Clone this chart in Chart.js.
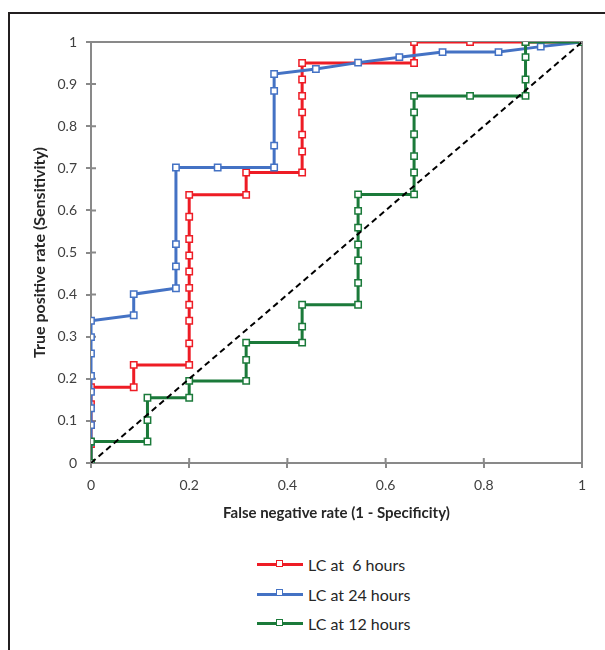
<!DOCTYPE html>
<html>
<head>
  <meta charset="UTF-8">
  <title>ROC curves</title>
  <script src="https://cdn.jsdelivr.net/npm/chart.js"></script>
  <style>
    body { margin: 0; background: #fff; font-family: Lato, 'Liberation Sans', sans-serif; }
    #frame { position: absolute; left: 8px; top: 12px; width: 640px; height: 700px;
             border-left: 2px solid #231f20; border-top: 2px solid #231f20; }
    #rocChart { position: absolute; left: 0; top: 0; }
    #legend { position: absolute; left: 257px; top: 550px; }
    .row { height: 29.5px; display: flex; align-items: center; color: #262626; font-size: 16px; white-space: pre; }
    .swatch { position: relative; width: 46px; height: 3px; margin-right: 5px; }
    .swatch span { position: absolute; left: 19px; top: -3.5px; width: 5px; height: 5px; background: #fff; border: 1.5px solid; }
  </style>
</head>
<body>
  <div id="frame"></div>
  <canvas id="rocChart" width="605" height="540"></canvas>
  <div id="legend"></div>

  <script>
    // values
    const seriesNames = ['LC at  6 hours', 'LC at 24 hours', 'LC at 12 hours'];
    const seriesColors = ['#ee1c25', '#4472c4', '#1b7a3a'];

    const lc6X = [0, 0, 0, 0, 0, 0.087, 0.087, 0.2, 0.2, 0.2, 0.2, 0.2, 0.2, 0.2, 0.2, 0.2, 0.2, 0.316, 0.316, 0.43, 0.43, 0.43, 0.43, 0.43, 0.43, 0.43, 0.658, 0.658, 0.772, 0.885, 1];
    const lc6Y = [0, 0.045, 0.09, 0.14, 0.18, 0.18, 0.233, 0.233, 0.284, 0.338, 0.376, 0.416, 0.455, 0.493, 0.532, 0.585, 0.637, 0.637, 0.69, 0.69, 0.74, 0.78, 0.833, 0.872, 0.911, 0.95, 0.95, 1, 1, 1, 1];

    const lc24X = [0, 0, 0, 0, 0, 0, 0, 0, 0, 0.087, 0.087, 0.173, 0.173, 0.173, 0.173, 0.258, 0.373, 0.373, 0.373, 0.373, 0.458, 0.544, 0.628, 0.716, 0.83, 0.916, 1];
    const lc24Y = [0, 0.05, 0.09, 0.13, 0.169, 0.207, 0.26, 0.299, 0.338, 0.351, 0.401, 0.415, 0.467, 0.52, 0.702, 0.702, 0.702, 0.754, 0.884, 0.924, 0.936, 0.951, 0.964, 0.976, 0.976, 0.989, 1];

    const lc12X = [0, 0, 0.115, 0.115, 0.115, 0.2, 0.2, 0.316, 0.316, 0.316, 0.43, 0.43, 0.43, 0.544, 0.544, 0.544, 0.544, 0.544, 0.544, 0.544, 0.658, 0.658, 0.658, 0.658, 0.658, 0.658, 0.772, 0.885, 0.885, 0.885, 0.885, 1];
    const lc12Y = [0, 0.051, 0.051, 0.102, 0.155, 0.155, 0.195, 0.195, 0.245, 0.286, 0.286, 0.324, 0.376, 0.376, 0.428, 0.481, 0.519, 0.559, 0.599, 0.638, 0.638, 0.69, 0.729, 0.781, 0.833, 0.872, 0.872, 0.872, 0.911, 0.964, 1, 1];

    const diagX = [0, 1];
    const diagY = [0, 1];

    const xTickLabels = ['0', '0.2', '0.4', '0.6', '0.8', '1'];
    const yTickLabels = ['0', '0.1', '0.2', '0.3', '0.4', '0.5', '0.6', '0.7', '0.8', '0.9', '1'];

    const axisGrey = '#898989';
    const toPoints = (xs, ys) => xs.map((x, i) => ({ x: x, y: ys[i] }));

    function series(idx, xs, ys, order) {
      return {
        label: seriesNames[idx],
        data: toPoints(xs, ys),
        showLine: true,
        borderColor: seriesColors[idx],
        borderWidth: 3,
        pointStyle: 'rect',
        pointRadius: 4.5,
        pointBorderWidth: 1.5,
        pointBorderColor: seriesColors[idx],
        pointBackgroundColor: '#ffffff',
        order: order
      };
    }

    // grey box on top/right plus the inner half of each tick mark
    const frameAndTicks = {
      id: 'frameAndTicks',
      beforeDatasetsDraw(chart) {
        const { ctx, chartArea: a, scales } = chart;
        ctx.save();
        ctx.strokeStyle = axisGrey;
        ctx.lineWidth = 2;
        ctx.beginPath();
        ctx.moveTo(a.left, a.top); ctx.lineTo(a.right, a.top); ctx.lineTo(a.right, a.bottom);
        scales.x.ticks.forEach(t => {
          const px = scales.x.getPixelForValue(t.value);
          ctx.moveTo(px, a.bottom); ctx.lineTo(px, a.bottom - 5);
        });
        scales.y.ticks.forEach(t => {
          const py = scales.y.getPixelForValue(t.value);
          ctx.moveTo(a.left, py); ctx.lineTo(a.left + 5, py);
        });
        ctx.stroke();
        ctx.restore();
      }
    };

    const tickFont = { family: 'Lato', size: 14 };
    const titleFont = { family: 'Lato', size: 15, weight: 'bold' };

    new Chart(document.getElementById('rocChart'), {
      type: 'scatter',
      data: {
        datasets: [
          {
            label: 'reference',
            data: toPoints(diagX, diagY),
            showLine: true,
            borderColor: '#000000',
            borderWidth: 2,
            borderDash: [6, 4],
            pointRadius: 0,
            order: -1
          },
          series(0, lc6X, lc6Y, 3),
          series(1, lc24X, lc24Y, 2),
          series(2, lc12X, lc12Y, 1)
        ]
      },
      options: {
        responsive: false,
        animation: false,
        layout: { padding: { left: 0, right: 23, top: 42, bottom: 0 } },
        plugins: { legend: { display: false }, tooltip: { enabled: false } },
        scales: {
          x: {
            type: 'linear', min: 0, max: 1,
            ticks: { stepSize: 0.2, padding: 9, color: '#404040', font: tickFont,
                     callback: (v, i) => xTickLabels[i] },
            grid: { drawOnChartArea: false, tickLength: 5, color: axisGrey, lineWidth: 2 },
            border: { color: axisGrey, width: 2 },
            title: { display: true, text: 'False negative rate (1 - Specificity)', color: '#262626',
                     font: titleFont, padding: { top: 0, bottom: 18 } },
            afterFit(s) { s.height = 77; }
          },
          y: {
            type: 'linear', min: 0, max: 1,
            ticks: { stepSize: 0.1, padding: 9, color: '#404040', font: tickFont,
                     callback: (v, i) => yTickLabels[i] },
            grid: { drawOnChartArea: false, tickLength: 5, color: axisGrey, lineWidth: 2 },
            border: { color: axisGrey, width: 2 },
            title: { display: true, text: 'True positive rate (Sensitivity)', color: '#262626',
                     font: { family: 'Lato', size: 16, weight: 'bold' }, padding: { top: 30, bottom: 0 } },
            afterFit(s) { s.width = 91; }
          }
        }
      },
      plugins: [frameAndTicks]
    });

    // legend listed in the order of the reference
    const legend = document.getElementById('legend');
    seriesNames.forEach((name, i) => {
      const row = document.createElement('div');
      row.className = 'row';
      row.innerHTML = '<div class="swatch" style="background:' + seriesColors[i] + '"><span style="border-color:' +
        seriesColors[i] + '"></span></div>' + name;
      legend.appendChild(row);
    });
  </script>
</body>
</html>
